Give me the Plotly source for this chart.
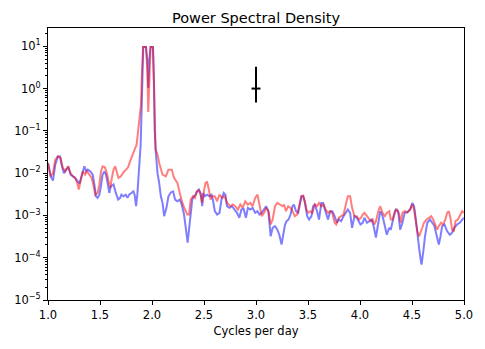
import plotly.graph_objects as go

# ---------------- data ----------------
freq_blue = [1.000, 1.026, 1.048, 1.070, 1.095, 1.115, 1.134, 1.153, 1.175, 1.198,
             1.217, 1.239, 1.261, 1.286, 1.303, 1.318, 1.334, 1.350, 1.366, 1.382,
             1.408, 1.430, 1.446, 1.461, 1.477, 1.494, 1.509, 1.525, 1.541, 1.557,
             1.573, 1.589, 1.604, 1.630, 1.652, 1.675, 1.694, 1.706, 1.726, 1.747,
             1.764, 1.780, 1.802, 1.821, 1.833, 1.847, 1.859, 1.875, 1.891, 1.900,
             1.907, 1.916, 1.942, 1.955, 1.964, 1.974, 1.986, 2.009, 2.019, 2.026,
             2.037, 2.053, 2.069, 2.085, 2.101, 2.117, 2.139, 2.158, 2.181, 2.203,
             2.222, 2.244, 2.267, 2.286, 2.308, 2.330, 2.343, 2.356, 2.368, 2.387,
             2.403, 2.420, 2.435, 2.451, 2.467, 2.483, 2.492, 2.508, 2.530, 2.553,
             2.572, 2.585, 2.604, 2.626, 2.649, 2.668, 2.690, 2.706, 2.721, 2.744,
             2.769, 2.795, 2.817, 2.840, 2.859, 2.881, 2.903, 2.922, 2.945, 2.967,
             2.992, 3.014, 3.033, 3.055, 3.078, 3.097, 3.119, 3.141, 3.160, 3.183,
             3.205, 3.224, 3.246, 3.263, 3.279, 3.294, 3.313, 3.332, 3.351, 3.365,
             3.384, 3.406, 3.422, 3.437, 3.454, 3.470, 3.492, 3.511, 3.533, 3.549,
             3.565, 3.587, 3.606, 3.628, 3.644, 3.670, 3.692, 3.714, 3.733, 3.756,
             3.778, 3.797, 3.819, 3.842, 3.867, 3.883, 3.905, 3.924, 3.947, 3.969,
             3.988, 4.004, 4.026, 4.042, 4.067, 4.090, 4.112, 4.131, 4.153, 4.176,
             4.195, 4.217, 4.239, 4.258, 4.281, 4.296, 4.322, 4.344, 4.367, 4.386,
             4.408, 4.430, 4.456, 4.482, 4.504, 4.520, 4.535, 4.551, 4.568, 4.583,
             4.592, 4.609, 4.625, 4.647, 4.673, 4.695, 4.716, 4.735, 4.758, 4.774,
             4.790, 4.812, 4.838, 4.864, 4.886, 4.907, 4.933, 4.959, 4.981, 4.997]
psd_blue = [1.74e-2, 8.4e-3, 6.65e-3, 1.59e-2, 2.49e-2, 2.49e-2, 1.45e-2, 1.0e-2, 1.21e-2, 1.37e-2,
            9.2e-3, 8.4e-3, 7.7e-3, 6.4e-3, 5.6e-3, 7.7e-3, 1.0e-2, 1.45e-2, 1.1e-2, 1.21e-2,
            1.1e-2, 9.2e-3, 5.4e-3, 2.84e-3, 2.6e-3, 3.1e-3, 4.9e-3, 9.2e-3, 1.1e-2, 9.2e-3,
            5.9e-3, 3.4e-3, 4.9e-3, 5.4e-3, 3.4e-3, 2.37e-3, 2.6e-3, 3.1e-3, 2.84e-3, 3.1e-3,
            2.6e-3, 3.1e-3, 3.4e-3, 3.7e-3, 3.1e-3, 1.65e-3, 3.1e-3, 1.59e-2, 4.7e-2, 0.315,
            4.75, 9.6, 9.6, 4.75, 1.04, 4.75, 9.6, 9.6, 1.6, 0.106,
            3.0e-2, 1.0e-2, 5.9e-3, 2.84e-3, 1.98e-3, 9.6e-4, 1.51e-3, 2.84e-3, 3.5e-3, 3.7e-3,
            2.37e-3, 2.16e-3, 2.37e-3, 1.81e-3, 1.05e-3, 4.6e-4, 2.26e-4, 4.6e-4, 1.05e-3, 2.37e-3,
            2.84e-3, 3.1e-3, 3.7e-3, 4.1e-3, 3.4e-3, 1.65e-3, 3.4e-3, 2.84e-3, 3.1e-3, 2.84e-3,
            3.1e-3, 2.37e-3, 1.26e-3, 1.05e-3, 1.15e-3, 2.37e-3, 3.4e-3, 3.1e-3, 1.65e-3, 1.51e-3,
            1.65e-3, 1.38e-3, 1.15e-3, 8.8e-4, 1.38e-3, 1.43e-3, 8.8e-4, 1.51e-3, 1.38e-3, 1.51e-3,
            1.15e-3, 1.26e-3, 1.05e-3, 1.15e-3, 1.38e-3, 1.65e-3, 1.26e-3, 3.2e-4, 5.1e-4, 5.6e-4,
            4.6e-4, 3.5e-4, 2.06e-4, 3.9e-4, 6.1e-4, 7.3e-4, 8.0e-4, 1.05e-3, 1.65e-3, 1.81e-3,
            1.26e-3, 1.15e-3, 1.81e-3, 2.84e-3, 2.84e-3, 1.98e-3, 9.6e-4, 8.0e-4, 9.6e-4, 1.65e-3,
            1.81e-3, 1.26e-3, 8.0e-4, 1.98e-3, 1.98e-3, 1.15e-3, 8.0e-4, 1.26e-3, 1.26e-3, 9.6e-4,
            6.7e-4, 8.0e-4, 7.3e-4, 9.6e-4, 1.26e-3, 1.38e-3, 1.15e-3, 5.1e-4, 9.6e-4, 8.8e-4,
            7.3e-4, 6.1e-4, 6.7e-4, 8.8e-4, 6.7e-4, 7.3e-4, 8.0e-4, 5.6e-4, 3.0e-4, 6.7e-4,
            1.26e-3, 9.6e-4, 5.1e-4, 3.5e-4, 5.1e-4, 4.6e-4, 8.8e-4, 1.38e-3, 1.26e-3, 4.6e-4,
            6.7e-4, 1.15e-3, 1.19e-3, 1.38e-3, 1.98e-3, 1.65e-3, 8.8e-4, 3.2e-4, 1.72e-4, 9.1e-5,
            6.9e-5, 1.43e-4, 3.2e-4, 6.7e-4, 8.0e-4, 6.7e-4, 5.6e-4, 3.5e-4, 2.06e-4, 3.2e-4,
            5.6e-4, 6.1e-4, 4.2e-4, 3.5e-4, 3.9e-4, 5.1e-4, 6.1e-4, 6.7e-4, 8.0e-4, 8.8e-4]

freq_red = [1.000, 1.026, 1.048, 1.070, 1.095, 1.121, 1.143, 1.165, 1.191, 1.217,
            1.239, 1.261, 1.280, 1.296, 1.312, 1.334, 1.356, 1.375, 1.398, 1.420,
            1.439, 1.455, 1.477, 1.494, 1.509, 1.525, 1.547, 1.566, 1.582, 1.599,
            1.614, 1.630, 1.646, 1.662, 1.678, 1.700, 1.716, 1.732, 1.751, 1.770,
            1.789, 1.811, 1.833, 1.852, 1.866, 1.878, 1.894, 1.904, 1.914, 1.942,
            1.955, 1.964, 1.974, 1.986, 2.009, 2.017, 2.024, 2.034, 2.050, 2.069,
            2.101, 2.133, 2.158, 2.190, 2.212, 2.244, 2.267, 2.292, 2.317, 2.339,
            2.356, 2.372, 2.394, 2.413, 2.429, 2.451, 2.467, 2.483, 2.499, 2.515,
            2.530, 2.547, 2.563, 2.578, 2.604, 2.626, 2.649, 2.674, 2.699, 2.721,
            2.754, 2.776, 2.801, 2.826, 2.849, 2.871, 2.897, 2.922, 2.945, 2.967,
            2.992, 3.014, 3.033, 3.055, 3.078, 3.097, 3.119, 3.141, 3.160, 3.183,
            3.205, 3.231, 3.256, 3.269, 3.288, 3.310, 3.332, 3.351, 3.374, 3.396,
            3.415, 3.437, 3.454, 3.470, 3.485, 3.501, 3.523, 3.542, 3.565, 3.587,
            3.606, 3.628, 3.651, 3.670, 3.692, 3.714, 3.733, 3.756, 3.771, 3.797,
            3.819, 3.842, 3.867, 3.883, 3.905, 3.924, 3.947, 3.969, 3.988, 4.010,
            4.026, 4.042, 4.067, 4.090, 4.105, 4.122, 4.138, 4.153, 4.176, 4.195,
            4.217, 4.239, 4.258, 4.281, 4.296, 4.313, 4.335, 4.354, 4.377, 4.392,
            4.408, 4.430, 4.456, 4.482, 4.504, 4.520, 4.535, 4.551, 4.568, 4.583,
            4.599, 4.615, 4.640, 4.663, 4.685, 4.704, 4.726, 4.742, 4.758, 4.780,
            4.800, 4.821, 4.838, 4.854, 4.869, 4.886, 4.902, 4.918, 4.941, 4.960,
            4.982, 4.999]
psd_red = [1.74e-2, 8.4e-3, 1.0e-2, 2.08e-2, 2.49e-2, 2.28e-2, 1.33e-2, 1.1e-2, 1.45e-2, 1.0e-2,
           8.4e-3, 7.7e-3, 5.9e-3, 4.1e-3, 6.4e-3, 1.1e-2, 9.2e-3, 1.1e-2, 9.2e-3, 7.7e-3,
           4.9e-3, 3.1e-3, 3.4e-3, 5.4e-3, 1.1e-2, 1.45e-2, 1.37e-2, 1.0e-2, 6.4e-3, 4.5e-3,
           7.7e-3, 1.21e-2, 1.45e-2, 1.1e-2, 7.7e-3, 8.4e-3, 1.0e-2, 1.1e-2, 1.21e-2, 1.37e-2,
           1.9e-2, 2.49e-2, 3.6e-2, 4.7e-2, 9.0e-2, 0.183, 0.41, 2.76, 9.6, 9.6,
           2.76, 0.28, 2.76, 9.6, 9.6, 1.6, 0.183, 3.6e-2, 3.0e-2, 1.74e-2,
           9.2e-3, 8.4e-3, 1.21e-2, 1.21e-2, 7.7e-3, 5.9e-3, 3.4e-3, 1.98e-3, 1.38e-3, 1.05e-3,
           1.05e-3, 2.37e-3, 2.84e-3, 2.6e-3, 3.7e-3, 3.9e-3, 3.1e-3, 1.98e-3, 3.7e-3, 5.9e-3,
           6.1e-3, 4.1e-3, 2.37e-3, 2.84e-3, 2.84e-3, 2.16e-3, 3.1e-3, 2.6e-3, 2.84e-3, 1.98e-3,
           1.65e-3, 1.81e-3, 1.65e-3, 1.38e-3, 1.81e-3, 1.51e-3, 2.16e-3, 1.81e-3, 1.98e-3, 1.65e-3,
           2.6e-3, 3.1e-3, 1.81e-3, 9.6e-4, 1.15e-3, 1.51e-3, 1.26e-3, 6.1e-4, 8.0e-4, 1.65e-3,
           1.98e-3, 1.81e-3, 1.65e-3, 1.81e-3, 1.26e-3, 1.65e-3, 1.51e-3, 1.26e-3, 9.6e-4, 1.05e-3,
           1.65e-3, 2.84e-3, 2.94e-3, 2.16e-3, 1.38e-3, 1.15e-3, 1.26e-3, 1.15e-3, 1.81e-3, 1.65e-3,
           1.98e-3, 1.65e-3, 1.81e-3, 1.38e-3, 1.15e-3, 1.26e-3, 1.15e-3, 6.7e-4, 6.1e-4, 8.8e-4,
           9.6e-4, 1.05e-3, 1.98e-3, 2.84e-3, 2.84e-3, 1.51e-3, 9.6e-4, 9.6e-4, 8.0e-4, 8.8e-4,
           1.05e-3, 1.15e-3, 9.6e-4, 8.0e-4, 7.3e-4, 8.0e-4, 6.1e-4, 7.3e-4, 1.26e-3, 1.65e-3,
           1.15e-3, 9.6e-4, 1.15e-3, 1.26e-3, 8.0e-4, 8.0e-4, 1.26e-3, 1.38e-3, 1.05e-3, 6.7e-4,
           1.15e-3, 1.26e-3, 1.19e-3, 1.38e-3, 1.81e-3, 1.38e-3, 8.0e-4, 4.2e-4, 3.2e-4, 3.9e-4,
           5.1e-4, 6.7e-4, 8.0e-4, 8.8e-4, 9.6e-4, 8.0e-4, 5.6e-4, 4.6e-4, 5.6e-4, 6.7e-4,
           6.1e-4, 8.0e-4, 1.15e-3, 1.26e-3, 8.8e-4, 4.6e-4, 4.2e-4, 7.3e-4, 8.0e-4, 9.6e-4,
           1.26e-3, 1.15e-3]

# confidence-interval marker
err_x = [3.0]
err_y = [1.0]
err_hi = [3.3]
err_lo = [0.47]
err_halfwidth = [0.043]

x_ticks = [1.0, 1.5, 2.0, 2.5, 3.0, 3.5, 4.0, 4.5, 5.0]
y_ticks = [1e-5, 1e-4, 1e-3, 1e-2, 1e-1, 1e0, 1e1]
y_ticktext = ["10<sup>−5</sup>", "10<sup>−4</sup>", "10<sup>−3</sup>", "10<sup>−2</sup>",
              "10<sup>−1</sup>", "10<sup>0</sup>", "10<sup>1</sup>"]
y_minor = [m * 10.0 ** e for e in range(-5, 2) for m in range(2, 10) if m * 10.0 ** e < 27]

# ---------------- figure ----------------
fig = go.Figure()
fig.add_trace(go.Scatter(x=freq_blue, y=psd_blue, mode="lines",
                         line=dict(color="blue", width=2), opacity=0.5,
                         showlegend=False, hoverinfo="skip"))
fig.add_trace(go.Scatter(x=freq_red, y=psd_red, mode="lines",
                         line=dict(color="red", width=2), opacity=0.5,
                         showlegend=False, hoverinfo="skip"))
fig.add_trace(go.Scatter(
    x=err_x, y=err_y, mode="markers",
    marker=dict(size=1, color="rgba(0,0,0,0)"),
    error_y=dict(type="data", symmetric=False,
                 array=[h - y for h, y in zip(err_hi, err_y)],
                 arrayminus=[y - l for l, y in zip(err_lo, err_y)],
                 color="black", thickness=2, width=0),
    error_x=dict(type="data", array=err_halfwidth, color="black", thickness=2, width=0),
    showlegend=False, hoverinfo="skip"))

font_family = "DejaVu Sans"
fig.update_layout(
    width=485, height=349,
    margin=dict(l=48, r=18, t=28, b=49),
    paper_bgcolor="white", plot_bgcolor="white",
    font=dict(family=font_family, size=11.5, color="black"),
    title=dict(text="Power Spectral Density", x=0.5, xref="paper", xanchor="center",
               y=1, yref="paper", yanchor="bottom", pad=dict(b=5),
               font=dict(family=font_family, size=14.5, color="black")),
)
fig.update_xaxes(
    range=[1.0, 5.0], tickmode="array", tickvals=x_ticks,
    ticktext=[f"{v:.1f}" for v in x_ticks],
    showgrid=False, zeroline=False, showline=True, linecolor="black", linewidth=1,
    mirror=True, ticks="outside", ticklen=4, tickcolor="black",
    tickfont=dict(size=11.5),
    title=dict(text="Cycles per day", font=dict(size=11.5), standoff=6),
)
fig.update_yaxes(
    type="log", range=[-5, 1.432], tickmode="array", tickvals=y_ticks, ticktext=y_ticktext,
    showgrid=False, zeroline=False, showline=True, linecolor="black", linewidth=1,
    mirror=True, ticks="outside", ticklen=4, tickcolor="black",
    tickfont=dict(size=11.5),
    minor=dict(tickmode="array", tickvals=y_minor, ticks="outside", ticklen=2,
               tickcolor="black", showgrid=False),
)

fig.write_html("out.html")
